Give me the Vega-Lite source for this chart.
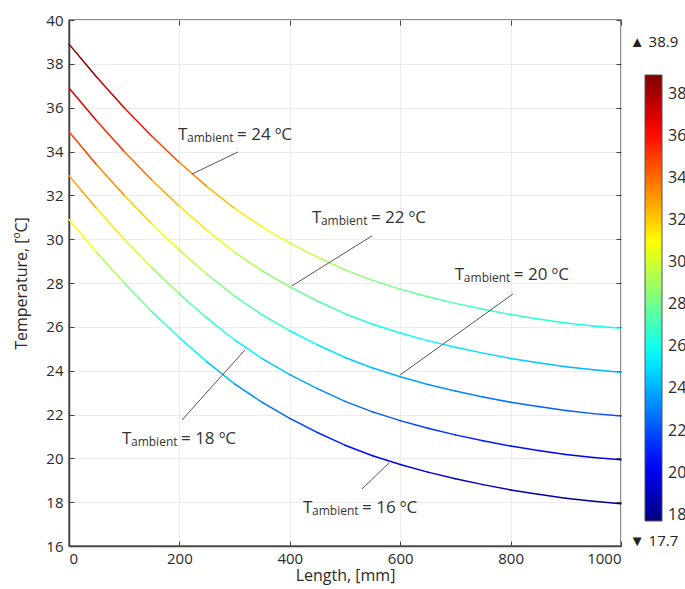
{
  "$schema": "https://vega.github.io/schema/vega-lite/v6.json",
  "width": 552,
  "height": 526,
  "autosize": {"type": "none"},
  "padding": {"left": 69, "top": 20, "right": 64, "bottom": 43},
  "background": "white",
  "config": {"view": {"stroke": "#666666", "strokeWidth": 1.5}, "font": "Open Sans"},
  "datasets": {
    "curves": [
      {"s":16,"L":0,"T":30.9},{"s":16,"L":50,"T":29.4},{"s":16,"L":100,"T":28.0},{"s":16,"L":150,"T":26.7},{"s":16,"L":200,"T":25.5},{"s":16,"L":250,"T":24.4},{"s":16,"L":300,"T":23.4},{"s":16,"L":350,"T":22.55},{"s":16,"L":400,"T":21.82},{"s":16,"L":450,"T":21.18},{"s":16,"L":500,"T":20.6},{"s":16,"L":550,"T":20.12},{"s":16,"L":600,"T":19.72},{"s":16,"L":650,"T":19.37},{"s":16,"L":700,"T":19.07},{"s":16,"L":750,"T":18.8},{"s":16,"L":800,"T":18.56},{"s":16,"L":850,"T":18.36},{"s":16,"L":900,"T":18.18},{"s":16,"L":950,"T":18.04},{"s":16,"L":1000,"T":17.93},
      {"s":18,"L":0,"T":32.9},{"s":18,"L":50,"T":31.4},{"s":18,"L":100,"T":30.0},{"s":18,"L":150,"T":28.7},{"s":18,"L":200,"T":27.5},{"s":18,"L":250,"T":26.4},{"s":18,"L":300,"T":25.4},{"s":18,"L":350,"T":24.55},{"s":18,"L":400,"T":23.82},{"s":18,"L":450,"T":23.18},{"s":18,"L":500,"T":22.6},{"s":18,"L":550,"T":22.12},{"s":18,"L":600,"T":21.72},{"s":18,"L":650,"T":21.37},{"s":18,"L":700,"T":21.07},{"s":18,"L":750,"T":20.8},{"s":18,"L":800,"T":20.56},{"s":18,"L":850,"T":20.36},{"s":18,"L":900,"T":20.18},{"s":18,"L":950,"T":20.04},{"s":18,"L":1000,"T":19.93},
      {"s":20,"L":0,"T":34.9},{"s":20,"L":50,"T":33.4},{"s":20,"L":100,"T":32.0},{"s":20,"L":150,"T":30.7},{"s":20,"L":200,"T":29.5},{"s":20,"L":250,"T":28.4},{"s":20,"L":300,"T":27.4},{"s":20,"L":350,"T":26.55},{"s":20,"L":400,"T":25.82},{"s":20,"L":450,"T":25.18},{"s":20,"L":500,"T":24.6},{"s":20,"L":550,"T":24.12},{"s":20,"L":600,"T":23.72},{"s":20,"L":650,"T":23.37},{"s":20,"L":700,"T":23.07},{"s":20,"L":750,"T":22.8},{"s":20,"L":800,"T":22.56},{"s":20,"L":850,"T":22.36},{"s":20,"L":900,"T":22.18},{"s":20,"L":950,"T":22.04},{"s":20,"L":1000,"T":21.93},
      {"s":22,"L":0,"T":36.9},{"s":22,"L":50,"T":35.4},{"s":22,"L":100,"T":34.0},{"s":22,"L":150,"T":32.7},{"s":22,"L":200,"T":31.5},{"s":22,"L":250,"T":30.4},{"s":22,"L":300,"T":29.4},{"s":22,"L":350,"T":28.55},{"s":22,"L":400,"T":27.82},{"s":22,"L":450,"T":27.18},{"s":22,"L":500,"T":26.6},{"s":22,"L":550,"T":26.12},{"s":22,"L":600,"T":25.72},{"s":22,"L":650,"T":25.37},{"s":22,"L":700,"T":25.07},{"s":22,"L":750,"T":24.8},{"s":22,"L":800,"T":24.56},{"s":22,"L":850,"T":24.36},{"s":22,"L":900,"T":24.18},{"s":22,"L":950,"T":24.04},{"s":22,"L":1000,"T":23.93},
      {"s":24,"L":0,"T":38.9},{"s":24,"L":50,"T":37.4},{"s":24,"L":100,"T":36.0},{"s":24,"L":150,"T":34.7},{"s":24,"L":200,"T":33.5},{"s":24,"L":250,"T":32.4},{"s":24,"L":300,"T":31.4},{"s":24,"L":350,"T":30.55},{"s":24,"L":400,"T":29.82},{"s":24,"L":450,"T":29.18},{"s":24,"L":500,"T":28.6},{"s":24,"L":550,"T":28.12},{"s":24,"L":600,"T":27.72},{"s":24,"L":650,"T":27.37},{"s":24,"L":700,"T":27.07},{"s":24,"L":750,"T":26.8},{"s":24,"L":800,"T":26.56},{"s":24,"L":850,"T":26.36},{"s":24,"L":900,"T":26.18},{"s":24,"L":950,"T":26.04},{"s":24,"L":1000,"T":25.93}
    ],
    "labels": [
      {"k":"24","L":197.5,"T":34.75,"rest":"= 24 ºC"},
      {"k":"22","L":440,"T":30.97,"rest":"= 22 ºC"},
      {"k":"20","L":699,"T":28.37,"rest":"= 20 ºC"},
      {"k":"18","L":96,"T":20.89,"rest":"= 18 ºC"},
      {"k":"16","L":424,"T":17.74,"rest":"= 16 ºC"}
    ],
    "leaders": [
      {"k":"24","L1":222.8,"T1":32.97,"L2":306.2,"T2":33.98},
      {"k":"22","L1":404,"T1":27.87,"L2":548.9,"T2":30.15},
      {"k":"20","L1":599.6,"T1":23.8,"L2":804.3,"T2":27.5},
      {"k":"18","L1":204.7,"T1":21.75,"L2":318.8,"T2":24.95},
      {"k":"16","L1":530.8,"T1":18.6,"L2":579.7,"T2":19.79}
    ],
    "extremes": [
      {"L":1016,"T":39.0,"txt":"▲ 38.9"},
      {"L":1016,"T":16.23,"txt":"▼ 17.7"}
    ]
  },
  "resolve": {"axis": {"x": "independent", "y": "independent"}},
  "layer": [
    {
      "data": {"name": "curves"},
      "transform": [
        {"window": [{"op": "lead", "field": "L", "as": "L2"}, {"op": "lead", "field": "T", "as": "T2"}], "groupby": ["s"], "sort": [{"field": "L"}]},
        {"filter": "datum.L2 != null"}
      ],
      "mark": {"type": "rule", "strokeWidth": 1.5, "strokeCap": "round"},
      "encoding": {
        "x": {"field": "L", "type": "quantitative",
          "scale": {"domain": [0, 1000], "nice": false, "zero": false},
          "axis": {"orient": "bottom", "values": [0, 200, 400, 600, 800, 1000], "format": "d", "grid": true, "gridColor": "#ececec",
            "tickSize": -5, "tickColor": "#444", "domainColor": "#444", "domainWidth": 1.5,
            "labelFont": "Open Sans", "labelFontSize": 15, "labelColor": "#2a2a2a", "labelPadding": 10,
            "title": "Length, [mm]", "titleFont": "Open Sans", "titleFontSize": 16, "titleFontWeight": "normal", "titleColor": "#2a2a2a", "titlePadding": 1}},
        "y": {"field": "T", "type": "quantitative",
          "scale": {"domain": [16, 40], "nice": false, "zero": false},
          "axis": {"orient": "left", "values": [16, 18, 20, 22, 24, 26, 28, 30, 32, 34, 36, 38, 40], "grid": true, "gridColor": "#ececec",
            "tickSize": -5, "tickColor": "#444", "domainColor": "#444", "domainWidth": 1.5,
            "labelFont": "Open Sans", "labelFontSize": 15, "labelColor": "#2a2a2a", "labelPadding": 11,
            "title": "Temperature, [ºC]", "titleFont": "Open Sans", "titleFontSize": 16, "titleFontWeight": "normal", "titleColor": "#2a2a2a", "titlePadding": 16}},
        "x2": {"field": "L2"},
        "y2": {"field": "T2"},
        "color": {"field": "T", "type": "quantitative",
          "scale": {"domain": [17.7, 20.35, 25.65, 30.95, 36.25, 38.9], "range": ["#00007f", "#0000ff", "#00ffff", "#ffff00", "#ff0000", "#7f0000"], "interpolate": "rgb"},
          "legend": {"orient": "none", "legendX": 576, "legendY": 55, "direction": "vertical", "type": "gradient",
            "gradientLength": 446, "gradientThickness": 17, "values": [18, 20, 22, 24, 26, 28, 30, 32, 34, 36, 38],
            "title": null, "labelFont": "Open Sans", "labelFontSize": 16, "labelColor": "#2a2a2a", "labelOffset": 6,
            "labelOverlap": false, "gradientStrokeColor": "#555", "gradientStrokeWidth": 1, "padding": 0}}
      }
    },
    {
      "data": {"name": "leaders"},
      "mark": {"type": "rule", "color": "#555555", "strokeWidth": 1},
      "encoding": {
        "x": {"field": "L1", "type": "quantitative", "axis": null},
        "y": {"field": "T1", "type": "quantitative", "axis": null},
        "x2": {"field": "L2"},
        "y2": {"field": "T2"}
      }
    },
    {
      "data": {"name": "labels"},
      "mark": {"type": "text", "text": "T", "font": "Open Sans", "fontSize": 17, "align": "left", "baseline": "middle", "color": "#333"},
      "encoding": {
        "x": {"field": "L", "type": "quantitative", "axis": null},
        "y": {"field": "T", "type": "quantitative", "axis": null}
      }
    },
    {
      "data": {"name": "labels"},
      "mark": {"type": "text", "text": "ambient", "font": "Open Sans", "fontSize": 12, "align": "left", "baseline": "middle", "dx": 9, "dy": 3, "color": "#333"},
      "encoding": {
        "x": {"field": "L", "type": "quantitative", "axis": null},
        "y": {"field": "T", "type": "quantitative", "axis": null}
      }
    },
    {
      "data": {"name": "labels"},
      "mark": {"type": "text", "font": "Open Sans", "fontSize": 17, "align": "left", "baseline": "middle", "dx": 59, "color": "#333"},
      "encoding": {
        "x": {"field": "L", "type": "quantitative", "axis": null},
        "y": {"field": "T", "type": "quantitative", "axis": null},
        "text": {"field": "rest"}
      }
    },
    {
      "data": {"name": "extremes"},
      "mark": {"type": "text", "font": "Open Sans", "fontSize": 15, "align": "left", "baseline": "middle", "color": "#222"},
      "encoding": {
        "x": {"field": "L", "type": "quantitative", "axis": null},
        "y": {"field": "T", "type": "quantitative", "axis": null},
        "text": {"field": "txt"}
      }
    },
    {
      "data": {"name": "curves"},
      "mark": {"type": "point", "opacity": 0},
      "encoding": {
        "x": {"field": "L", "type": "quantitative",
          "axis": {"orient": "top", "values": [0, 200, 400, 600, 800, 1000], "labels": false, "grid": false, "domain": false, "tickSize": -5, "tickColor": "#444", "title": null}},
        "y": {"field": "T", "type": "quantitative",
          "axis": {"orient": "right", "values": [16, 18, 20, 22, 24, 26, 28, 30, 32, 34, 36, 38, 40], "labels": false, "grid": false, "domain": false, "tickSize": -5, "tickColor": "#444", "title": null}}
      }
    }
  ]
}
